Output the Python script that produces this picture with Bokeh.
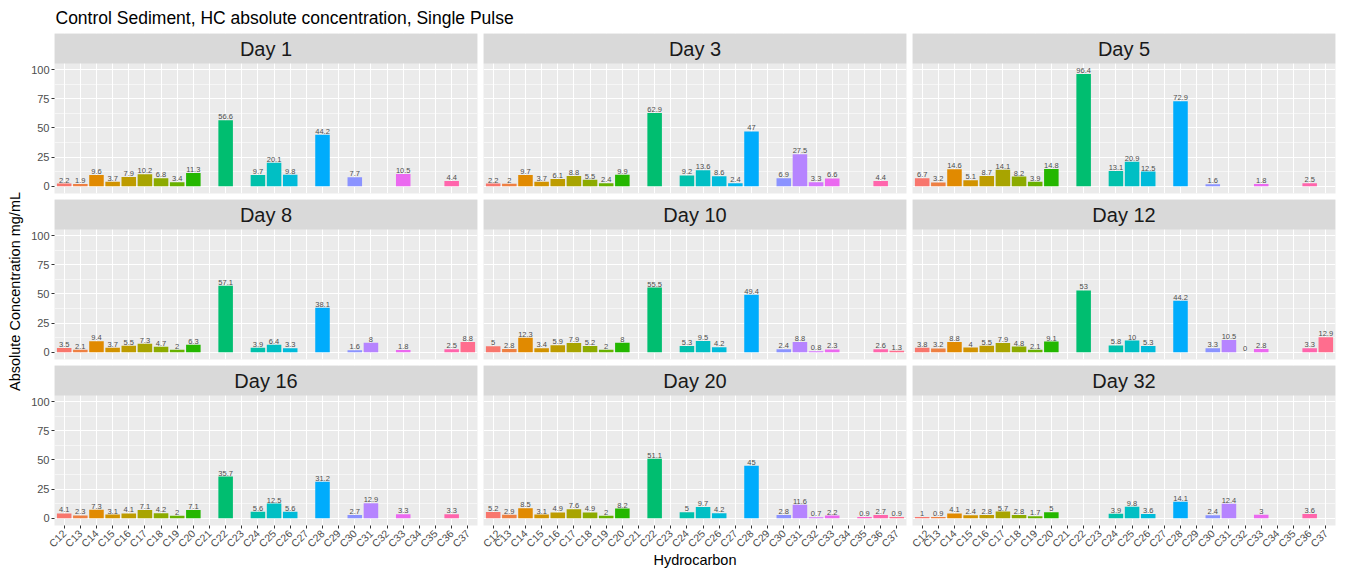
import math
from bokeh.plotting import figure
from bokeh.models import ColumnDataSource, Range1d, FixedTicker, BoxAnnotation, Label
from bokeh.layouts import column, row
from bokeh.embed import file_html
from bokeh.resources import INLINE
from bokeh.core.properties import value

N = None
hydrocarbons = ["C12", "C13", "C14", "C15", "C16", "C17", "C18", "C19", "C20", "C21",
                "C22", "C23", "C24", "C25", "C26", "C27", "C28", "C29", "C30", "C31",
                "C32", "C33", "C34", "C35", "C36", "C37"]
days = ["Day 1", "Day 3", "Day 5", "Day 8", "Day 10", "Day 12", "Day 16", "Day 20", "Day 32"]

day1 = [2.2, 1.9, 9.6, 3.7, 7.9, 10.2, 6.8, 3.4, 11.3, N, 56.6, N, 9.7, 20.1, 9.8, N, 44.2, N, 7.7, N, N, 10.5, N, N, 4.4, N]
day3 = [2.2, 2, 9.7, 3.7, 6.1, 8.8, 5.5, 2.4, 9.9, N, 62.9, N, 9.2, 13.6, 8.6, 2.4, 47, N, 6.9, 27.5, 3.3, 6.6, N, N, 4.4, N]
day5 = [6.7, 3.2, 14.6, 5.1, 8.7, 14.1, 8.2, 3.9, 14.8, N, 96.4, N, 13.1, 20.9, 12.5, N, 72.9, N, 1.6, N, N, 1.8, N, N, 2.5, N]
day8 = [3.5, 2.1, 9.4, 3.7, 5.5, 7.3, 4.7, 2, 6.3, N, 57.1, N, 3.9, 6.4, 3.3, N, 38.1, N, 1.6, 8, N, 1.8, N, N, 2.5, 8.8]
day10 = [5, 2.8, 12.3, 3.4, 5.9, 7.9, 5.2, 2, 8, N, 55.5, N, 5.3, 9.5, 4.2, N, 49.4, N, 2.4, 8.8, 0.8, 2.3, N, N, 2.6, 1.3]
day12 = [3.8, 3.2, 8.8, 4, 5.5, 7.9, 4.8, 2.1, 9.1, N, 53, N, 5.8, 10, 5.3, N, 44.2, N, 3.3, 10.5, 0, 2.8, N, N, 3.3, 12.9]
day16 = [4.1, 2.3, 7.3, 3.1, 4.1, 7.1, 4.2, 2, 7.1, N, 35.7, N, 5.6, 12.5, 5.6, N, 31.2, N, 2.7, 12.9, N, 3.3, N, N, 3.3, N]
day20 = [5.2, 2.9, 8.5, 3.1, 4.9, 7.6, 4.9, 2, 8.2, N, 51.1, N, 5, 9.7, 4.2, N, 45, N, 2.8, 11.6, 0.7, 2.2, N, 0.9, 2.7, 0.9]
day32 = [1, 0.9, 4.1, 2.4, 2.8, 5.7, 2.8, 1.7, 5, N, N, N, 3.9, 9.8, 3.6, N, 14.1, N, 2.4, 12.4, N, 3, N, N, 3.6, N]
series = [day1, day3, day5, day8, day10, day12, day16, day20, day32]

y_ticks = [0, 25, 50, 75, 100]
y_minor = [12.5, 37.5, 62.5, 87.5]
TITLE = "Control Sediment, HC absolute concentration, Single Pulse"
YLABEL = "Absolute Concentration mg/mL"
XLABEL = "Hydrocarbon"


def hcl_hex(h, c=100.0, l=65.0):
    hr = math.radians(h)
    U = c * math.cos(hr)
    V = c * math.sin(hr)
    Xn, Yn, Zn = 95.047, 100.0, 108.883
    Y = Yn * ((l + 16) / 116) ** 3 if l > 8 else Yn * l / 903.3
    t = Xn + 15 * Yn + 3 * Zn
    un, vn = 4 * Xn / t, 9 * Yn / t
    u = U / (13 * l) + un
    v = V / (13 * l) + vn
    X = 9.0 * Y * u / (4 * v)
    Z = -X / 3 - 5 * Y + 3 * Y / v
    X, Y, Z = X / 100, Y / 100, Z / 100
    r = 3.240479 * X - 1.537150 * Y - 0.498535 * Z
    g = -0.969256 * X + 1.875992 * Y + 0.041556 * Z
    b = 0.055648 * X - 0.204043 * Y + 1.057311 * Z

    def gam(x):
        x = 12.92 * x if x <= 0.0031308 else 1.055 * x ** (1 / 2.4) - 0.055
        return max(0, min(255, int(round(x * 255))))
    return "#%02X%02X%02X" % (gam(r), gam(g), gam(b))


n = len(hydrocarbons)
palette = [hcl_hex(15 + i * 360.0 / n) for i in range(n)]
xpos = [i + 1 for i in range(n)]

FONT = "Liberation Sans"
Y_LO, Y_HI = -6.3, 105.4
PLOT_PX, STRIP_PX = 130, 30
Y_END = Y_HI + STRIP_PX * (Y_HI - Y_LO) / PLOT_PX

LEFT_W = 24
TITLE_H = 33
FRAME_W = 423
FRAME_H = PLOT_PX + STRIP_PX
BL = [30, 3, 3]
BR = [3, 3, 11]
BT = [0, 3, 3]
BB = [3, 3, 40]


def blank_fig(w, h):
    f = figure(width=w, height=h, x_range=Range1d(0, w), y_range=Range1d(0, h),
               min_border=0, x_axis_location=None, y_axis_location=None,
               toolbar_location=None, output_backend="svg", title=None)
    f.grid.visible = False
    f.outline_line_color = None
    f.background_fill_color = "white"
    f.border_fill_color = "white"
    return f


# y-axis title strip on the far left
ylab_fig = blank_fig(LEFT_W, 571)
ylab_fig.add_layout(Label(x=14, y=571 - 291, text=YLABEL, angle=math.pi / 2,
                          text_align="center", text_baseline="middle",
                          text_font_size="14.5px", text_color="black", text_font=FONT))

# main title strip on top
title_fig = blank_fig(1346 - LEFT_W, TITLE_H)
title_fig.add_layout(Label(x=31, y=TITLE_H - 17, text=TITLE, text_align="left",
                           text_baseline="middle", text_font_size="17.5px",
                           text_color="black", text_font=FONT))

rows = [title_fig]
for r in range(3):
    figs = []
    for c in range(3):
        k = r * 3 + c
        p = figure(frame_width=FRAME_W, frame_height=FRAME_H, x_range=Range1d(0.4, n + 0.6),
                   y_range=Range1d(Y_LO, Y_END), output_backend="svg",
                   toolbar_location=None, title=None,
                   x_axis_location="below" if r == 2 else None,
                   y_axis_location="left" if c == 0 else None,
                   min_border_left=BL[c], min_border_right=BR[c],
                   min_border_top=BT[r], min_border_bottom=BB[r])
        p.background_fill_color = "#EBEBEB"
        p.border_fill_color = "white"
        p.outline_line_color = None

        p.xgrid.ticker = FixedTicker(ticks=xpos)
        p.xgrid.grid_line_color = "white"
        p.xgrid.grid_line_width = 1.1
        p.ygrid.ticker = FixedTicker(ticks=y_ticks, minor_ticks=y_minor)
        p.ygrid.grid_line_color = "white"
        p.ygrid.grid_line_width = 1.1
        p.ygrid.minor_grid_line_color = "white"
        p.ygrid.minor_grid_line_width = 0.55

        if c == 0:
            ax = p.yaxis[0]
            ax.ticker = FixedTicker(ticks=y_ticks)
            ax.axis_line_color = None
            ax.major_tick_line_color = "#333333"
            ax.major_tick_out = 3
            ax.major_tick_in = 0
            ax.minor_tick_line_color = None
            ax.major_label_text_font_size = "11px"
            ax.major_label_text_color = "#4D4D4D"
            ax.major_label_text_font = FONT
            ax.major_label_standoff = 2
        if r == 2:
            ax = p.xaxis[0]
            ax.ticker = FixedTicker(ticks=xpos)
            ax.major_label_overrides = {x: name for x, name in zip(xpos, hydrocarbons)}
            ax.major_label_orientation = math.pi / 4
            ax.axis_line_color = None
            ax.major_tick_line_color = "#333333"
            ax.major_tick_out = 3
            ax.major_tick_in = 0
            ax.minor_tick_line_color = None
            ax.major_label_text_font_size = "10.5px"
            ax.major_label_text_color = "#4D4D4D"
            ax.major_label_text_font = FONT
            ax.major_label_standoff = 3
            if c == 1:
                ax.axis_label = XLABEL
                ax.axis_label_text_font_size = "14.5px"
                ax.axis_label_text_font_style = "normal"
                ax.axis_label_text_color = "black"
                ax.axis_label_text_font = FONT
                ax.axis_label_standoff = -5

        vals = series[k]
        xs, tops, cols, labs = [], [], [], []
        for i, v in enumerate(vals):
            if v is None:
                continue
            xs.append(xpos[i])
            tops.append(v)
            cols.append(palette[i])
            labs.append(f"{v:g}")
        src = ColumnDataSource(dict(x=xs, top=tops, color=cols, label=labs))
        p.vbar(x="x", top="top", width=0.9, fill_color="color", line_color=None, source=src)
        p.text(x="x", y="top", text="label", text_align="center", text_baseline="bottom",
               y_offset=-1, text_font_size="7.5px", text_color="#4D4D4D",
               text_font=value(FONT), source=src)

        p.add_layout(BoxAnnotation(bottom=Y_HI, fill_color="#D9D9D9", fill_alpha=1.0,
                                   line_color=None))
        p.add_layout(Label(x=(n + 1) / 2, y=(Y_HI + Y_END) / 2, text=days[k],
                           text_align="center", text_baseline="middle",
                           text_font_size="20px", text_color="#1A1A1A", text_font=FONT))
        figs.append(p)
    rows.append(row(*figs))

layout = row(ylab_fig, column(*rows))
open("out.html", "w").write(file_html(layout, INLINE))
